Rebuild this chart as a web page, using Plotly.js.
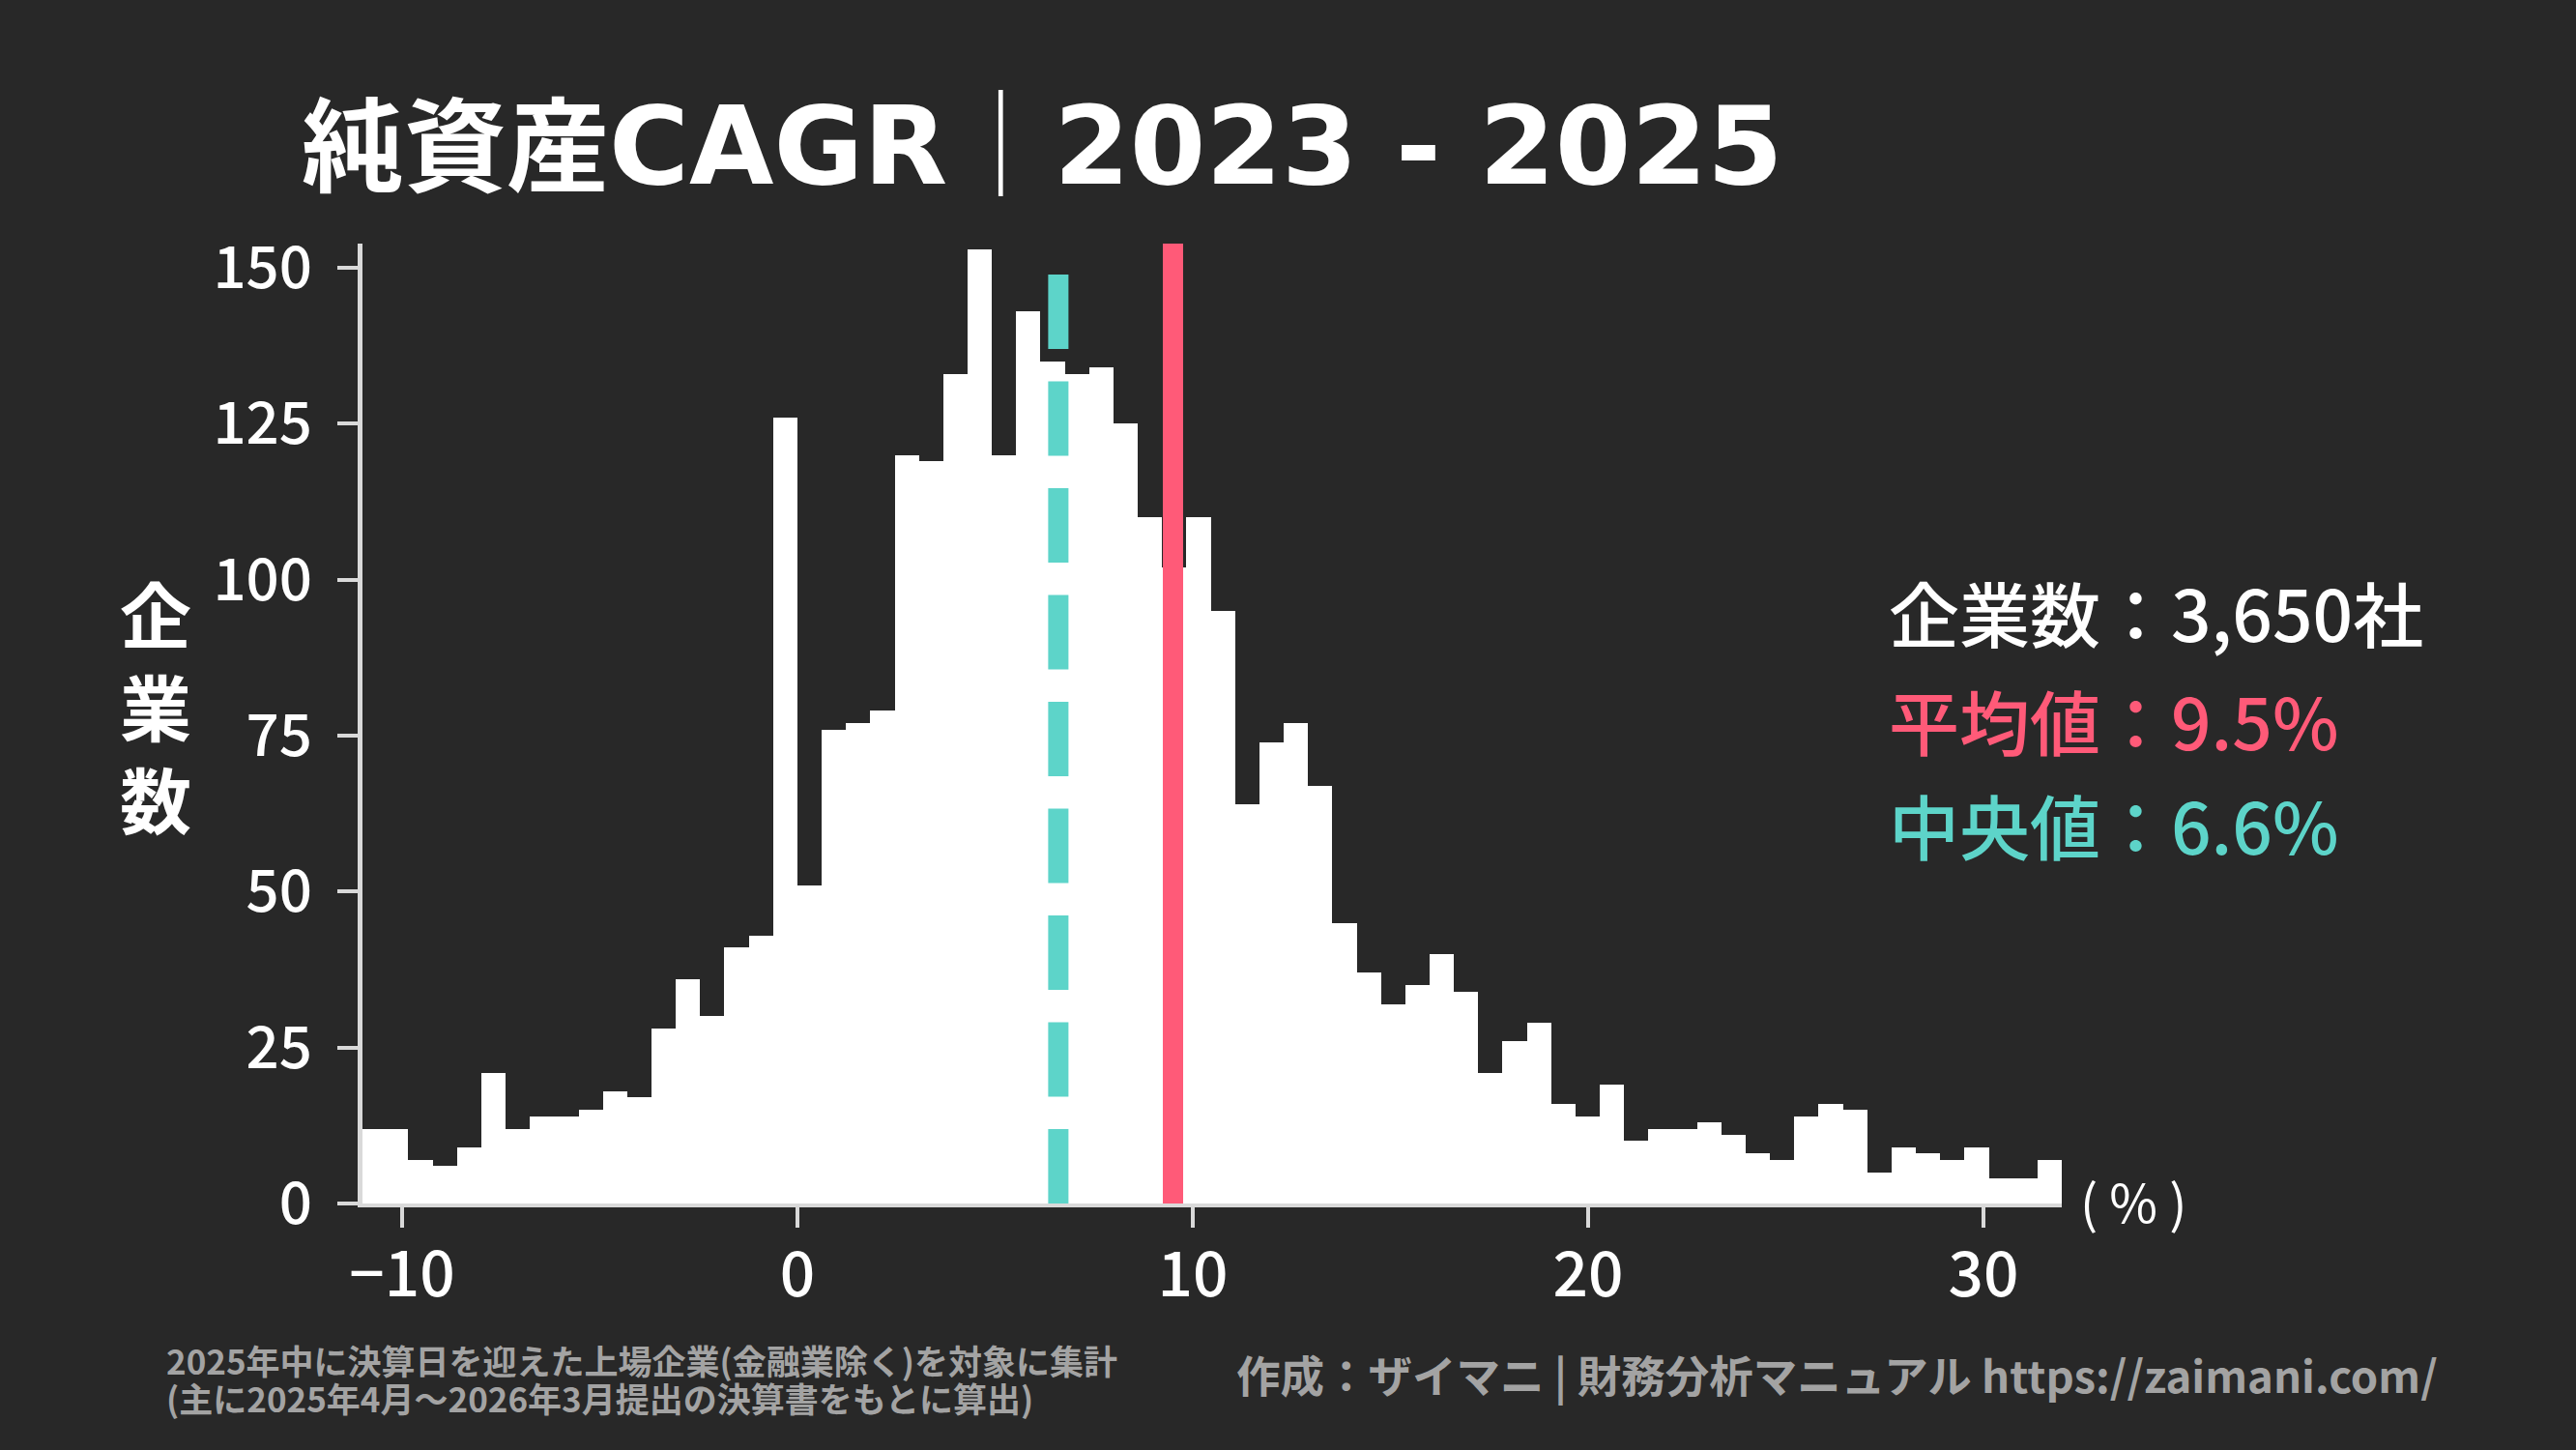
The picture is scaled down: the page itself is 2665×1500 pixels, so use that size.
<!DOCTYPE html>
<html>
<head>
<meta charset="utf-8">
<script src="https://cdn.plot.ly/plotly-3.0.1.min.js"></script>
<style>
  html, body { margin: 0; padding: 0; background: #282828; }
  #chart { width: 2665px; height: 1500px; }
</style>
</head>
<body>
<div id="chart"></div>
<script>
// ---------------- DATA ----------------
// Histogram of 純資産CAGR (2023-2025), counts per bin
const binWidth = 0.615;          // width of one bin (%)
const firstBinIndex = -18;       // first bin starts at firstBinIndex * binWidth
const binCounts = [
  12, 12, 7, 6, 9, 21, 12, 14, 14, 15,
  18, 17, 28, 36, 30, 41, 43, 126, 51, 76,
  77, 79, 120, 119, 133, 153, 120, 143, 135, 133,
  134, 125, 110, 102, 110, 95, 64, 74, 77, 67,
  45, 37, 32, 35, 40, 34, 21, 26, 29, 16,
  14, 19, 10, 12, 12, 13, 11, 8, 7, 14,
  16, 15, 5, 9, 8, 7, 9, 4, 4, 7
];
const meanValue = 9.5;
const medianValue = 6.6;
const companyCountLabel = "3,650";
const xTickVals = [-10, 0, 10, 20, 30];
const yTickVals = [0, 25, 50, 75, 100, 125, 150];
const xMin = -11;
const yMax = 153.9;

const titleJa = "純資産";
const titleLatin = "CAGR";
const titleSep = "｜";
const titleYears = "2023 - 2025";
const yTitleChars = ["企", "業", "数"];
const statLabels = ["企業数", "平均値", "中央値"];
const noteLines = [
  "2025年中に決算日を迎えた上場企業(金融業除く)を対象に集計",
  "(主に2025年4月～2026年3月提出の決算書をもとに算出)"
];
const creditText = "作成：ザイマニ | 財務分析マニュアル https://zaimani.com/";
const unitLabel = "( % )";

// ---------------- STYLE ----------------
const W = 2665, H = 1500;
const M = { l: 375, r: 532, t: 252, b: 255 };
const PW = W - M.l - M.r, PH = H - M.t - M.b;
const BG = "#282828";
const AXIS = "#d9d9d9";
const RED = "#ff5a78";
const TEAL = "#5dd4c9";
const GRAY = "#a3a3a3";
const CJK = '"Noto Sans CJK JP", "Noto Sans", sans-serif';
const HEAVY = '"DejaVu Sans", "Noto Sans CJK JP", sans-serif';

const px2x = p => (p - M.l) / PW;
const py2y = p => (H - M.b - p) / PH;

// bin centers from the bin specification
const binCenters = binCounts.map((_, i) => (firstBinIndex + i + 0.5) * binWidth);
const xMax = (firstBinIndex + binCounts.length) * binWidth;

const trace = {
  type: "bar",
  x: binCenters,
  y: binCounts,
  width: binCounts.map(() => binWidth),
  marker: { color: "#ffffff", line: { width: 0 } },
  hoverinfo: "skip"
};

const titleHtml =
  '<span style="font-family:\'Noto Sans CJK JP\';font-size:106px">' + titleJa + '</span>' +
  titleLatin +
  '<span style="font-family:\'Noto Sans CJK JP\';font-size:110px;font-weight:normal">' + titleSep + '</span>' +
  titleYears;

const layout = {
  width: W, height: H,
  paper_bgcolor: BG, plot_bgcolor: BG,
  margin: M,
  showlegend: false,
  bargap: 0,
  title: {
    text: titleHtml,
    font: { family: HEAVY, size: 113, color: "#ffffff", weight: "bold" },
    xref: "container", yref: "container",
    x: 312 / W, xanchor: "left",
    y: 1 - 150 / H, yanchor: "middle"
  },
  xaxis: {
    range: [xMin, xMax],
    tickvals: xTickVals,
    ticks: "outside", ticklen: 21, tickwidth: 4, tickcolor: AXIS,
    showline: true, linecolor: AXIS, linewidth: 4,
    showgrid: false, zeroline: false,
    ticklabelstandoff: -6,
    tickfont: { family: CJK, size: 64, color: "#ffffff", weight: 500 }
  },
  yaxis: {
    range: [0, yMax],
    tickvals: yTickVals,
    ticks: "outside", ticklen: 21, tickwidth: 4, tickcolor: AXIS,
    showline: true, linecolor: AXIS, linewidth: 5,
    showgrid: false, zeroline: false,
    ticklabelstandoff: 14,
    tickfont: { family: CJK, size: 60, color: "#ffffff", weight: 500 }
  },
  shapes: [
    {
      type: "line", xref: "x", yref: "y",
      x0: medianValue, x1: medianValue, y0: 0, y1: yMax,
      line: { color: TEAL, width: 21, dash: "77px,33.5px" }
    },
    {
      type: "line", xref: "x", yref: "y",
      x0: meanValue, x1: meanValue, y0: 0, y1: yMax,
      line: { color: RED, width: 21 }
    }
  ],
  annotations: [
    {
      text: yTitleChars.join("<br>"),
      xref: "paper", yref: "paper", x: px2x(161), y: py2y(728),
      xanchor: "center", yanchor: "middle", showarrow: false,
      font: { family: CJK, size: 74, color: "#ffffff", weight: "bold" }
    },
    {
      text: statLabels[0] + "：" + companyCountLabel + "社",
      xref: "paper", yref: "paper", x: px2x(1952), y: py2y(632),
      xanchor: "left", yanchor: "middle", showarrow: false,
      font: { family: CJK, size: 73, color: "#ffffff", weight: 500 }
    },
    {
      text: statLabels[1] + "：" + meanValue.toFixed(1) + "%",
      xref: "paper", yref: "paper", x: px2x(1952), y: py2y(744),
      xanchor: "left", yanchor: "middle", showarrow: false,
      font: { family: CJK, size: 73, color: RED, weight: 500 }
    },
    {
      text: statLabels[2] + "：" + medianValue.toFixed(1) + "%",
      xref: "paper", yref: "paper", x: px2x(1952), y: py2y(852),
      xanchor: "left", yanchor: "middle", showarrow: false,
      font: { family: CJK, size: 73, color: TEAL, weight: 500 }
    },
    {
      text: unitLabel,
      xref: "paper", yref: "paper", x: px2x(2207), y: py2y(1241),
      xanchor: "center", yanchor: "middle", showarrow: false,
      font: { family: CJK, size: 54, color: "#ffffff" }
    },
    {
      text: noteLines[0],
      xref: "paper", yref: "paper", x: px2x(170), y: py2y(1406),
      xanchor: "left", yanchor: "middle", showarrow: false,
      font: { family: CJK, size: 35, color: GRAY, weight: "bold" }
    },
    {
      text: noteLines[1],
      xref: "paper", yref: "paper", x: px2x(170), y: py2y(1445),
      xanchor: "left", yanchor: "middle", showarrow: false,
      font: { family: CJK, size: 35, color: GRAY, weight: "bold" }
    },
    {
      text: creditText,
      xref: "paper", yref: "paper", x: px2x(2524), y: py2y(1421),
      xanchor: "right", yanchor: "middle", showarrow: false,
      font: { family: CJK, size: 45.5, color: GRAY, weight: "bold" }
    }
  ]
};

Plotly.newPlot("chart", [trace], layout, { staticPlot: true, displayModeBar: false });
</script>
</body>
</html>
